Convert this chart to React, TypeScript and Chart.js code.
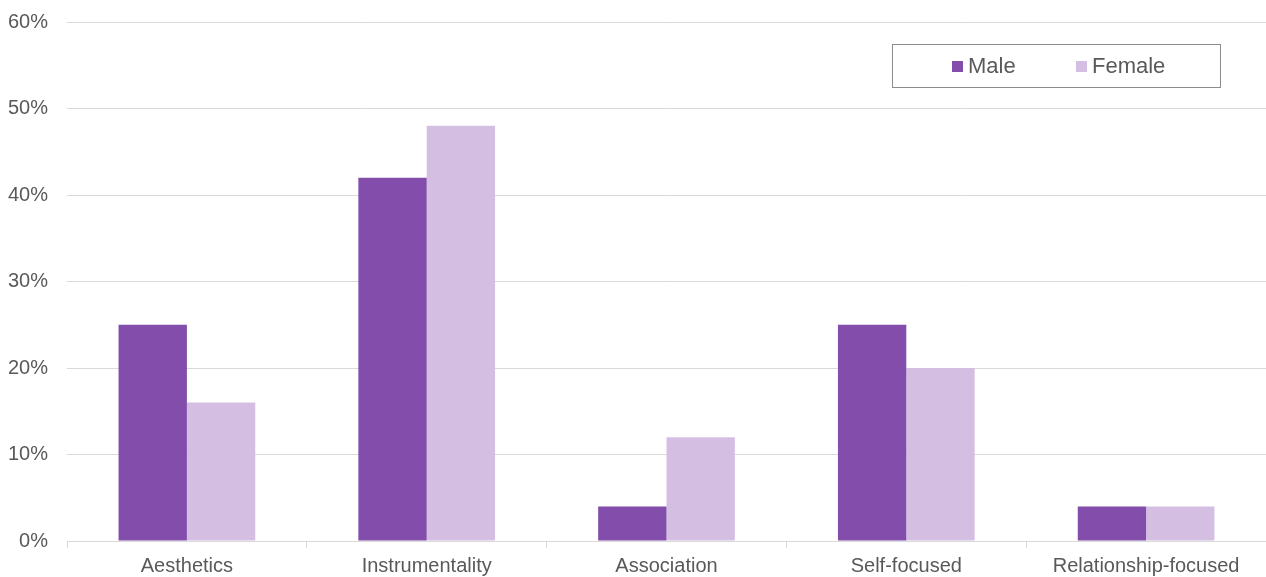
import React, { useEffect, useRef } from "react";
import { Chart, registerables } from "chart.js";

Chart.register(...registerables);

const categories = ["Aesthetics", "Instrumentality", "Association", "Self-focused", "Relationship-focused"];
const maleValues = [25, 42, 4, 25, 4];
const femaleValues = [16, 48, 12, 20, 4];
const seriesNames = ["Male", "Female"];
const maleColor = "#834DAB";
const femaleColor = "#D4BFE3";
const FONT = "'Liberation Sans', Arial, Helvetica, sans-serif";

export default function App() {
  const ref = useRef<HTMLCanvasElement | null>(null);
  useEffect(() => {
    if (!ref.current) return;
    const chart = new Chart(ref.current, {
      type: "bar",
      data: {
        labels: categories,
        datasets: [
          { label: seriesNames[0], data: maleValues, backgroundColor: maleColor, categoryPercentage: 0.57, barPercentage: 1 },
          { label: seriesNames[1], data: femaleValues, backgroundColor: femaleColor, categoryPercentage: 0.57, barPercentage: 1 },
        ],
      },
      options: {
        animation: false,
        responsive: false,
        maintainAspectRatio: false,
        layout: { padding: { top: 22, right: 0, left: 0, bottom: 0 } },
        plugins: { legend: { display: false }, tooltip: { enabled: false } },
        scales: {
          x: {
            grid: { display: true, drawOnChartArea: false, color: "#d9d9d9", tickLength: 7, offset: true },
            border: { display: true, color: "#d9d9d9" },
            ticks: { color: "#595959", font: { family: FONT, size: 20 }, padding: 6, maxRotation: 0, autoSkip: false },
            afterFit: (s: any) => { s.height = 36; s.paddingLeft = 0; s.paddingRight = 0; },
          },
          y: {
            min: 0,
            max: 60,
            ticks: { stepSize: 10, color: "#595959", font: { family: FONT, size: 20 }, padding: 19, callback: (v: any) => v + "%" },
            grid: { color: "#d9d9d9", drawTicks: false },
            border: { display: false },
            afterFit: (s: any) => { s.width = 67; s.paddingTop = 0; s.paddingBottom = 0; },
          },
        },
      },
    });
    return () => chart.destroy();
  }, []);
  const sq = (c: string) => ({ display: "inline-block", width: 11, height: 11, background: c, marginRight: 5 });
  return (
    <div style={{ position: "fixed", left: 0, top: 0, width: 1266, height: 577, background: "#fff" }}>
      <canvas ref={ref} width={1266} height={577} style={{ width: 1266, height: 577, display: "block" }} />
      <div
        style={{
          position: "absolute", left: 892, top: 44, width: 327, height: 42, border: "1px solid #8c8c8c",
          fontFamily: FONT, fontSize: 22, color: "#595959", display: "flex", alignItems: "center",
        }}
      >
        <span style={{ position: "absolute", left: 59, display: "flex", alignItems: "center" }}>
          <span style={sq(maleColor)} />{seriesNames[0]}
        </span>
        <span style={{ position: "absolute", left: 183, display: "flex", alignItems: "center" }}>
          <span style={sq(femaleColor)} />{seriesNames[1]}
        </span>
      </div>
    </div>
  );
}
